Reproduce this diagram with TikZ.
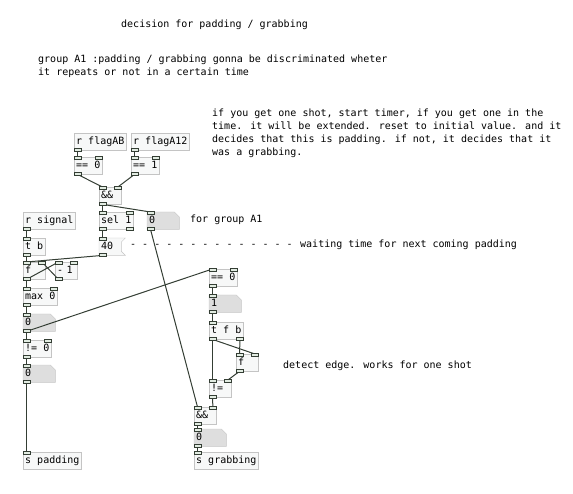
\documentclass[tikz,border=0pt]{standalone}
\usepackage{fontspec}
\newfontfamily\pdfont{DejaVu Sans Mono}
\usetikzlibrary{backgrounds}
\definecolor{pdbox}{RGB}{196,196,196}
\definecolor{pdfill}{RGB}{247,248,248}
\definecolor{pdatom}{RGB}{222,222,222}
\definecolor{pdwire}{RGB}{52,62,52}
\definecolor{pdport}{RGB}{226,236,226}

\tikzset{
  obj/.style={draw=pdbox,fill=pdfill,anchor=north west,font=\pdfont\fontsize{10}{13}\selectfont,
    inner xsep=2pt,inner ysep=0pt,minimum height=17pt,text height=7.5pt,text depth=2.5pt},
  narrow/.style={text width=18pt},
  atom/.style={obj,draw=none,fill=none,text width=28pt},
  msg/.style={obj,draw=none,fill=none,text width=18pt},
  note/.style={anchor=base west,inner sep=0pt,font=\pdfont\fontsize{10}{13}\selectfont,align=left},
  wire/.style={draw=pdwire,line width=1pt},
  port/.style={draw=pdwire,fill=pdport,line width=0.8pt}
}

% box outlines that a plain node can not give
\newcommand{\atombg}[1]{\filldraw[draw=pdbox,fill=pdatom] (#1.north west) -- ([xshift=-5pt]#1.north east)
  -- ([yshift=-5pt]#1.north east) -- (#1.south east) -- (#1.south west) -- cycle;}
\newcommand{\msgbg}[1]{\filldraw[draw=pdbox,fill=pdfill] (#1.north west) -- ([xshift=4pt]#1.north east)
  -- ([yshift=-4pt]#1.north east) -- ([yshift=4pt]#1.south east) -- ([xshift=4pt]#1.south east)
  -- (#1.south west) -- cycle;}
% inlets and outlets
\newcommand{\pdin}[1]{\draw[port] ([yshift=1pt]#1.north west) rectangle ++(7,3);}
\newcommand{\pdinr}[1]{\draw[port] ([yshift=1pt]#1.north east) rectangle ++(-7,3);}
\newcommand{\pdout}[1]{\draw[port] ([yshift=-1pt]#1.south west) rectangle ++(7,-3);}
\newcommand{\pdoutr}[1]{\draw[port] ([yshift=-1pt]#1.south east) rectangle ++(-7,-3);}
% connections
\newcommand{\pdlink}[2]{\draw[wire] ([xshift=3.5pt]#1.south west) -- ([xshift=3.5pt]#2.north west);}
\newcommand{\pdlinkr}[2]{\draw[wire] ([xshift=3.5pt]#1.south west) -- ([xshift=-3.5pt]#2.north east);}
\newcommand{\pdrlink}[2]{\draw[wire] ([xshift=-3.5pt]#1.south east) -- ([xshift=3.5pt]#2.north west);}

\begin{document}
\begin{tikzpicture}[x=1pt,y=-1pt]
  \useasboundingbox (0,0) rectangle (573,494);

  \node[note] (title) at (121,28) {decision for padding / grabbing};
  \node[note] (about) at (38,76) {group A1 :padding / grabbing gonna be discriminated wheter\\it repeats or not in a certain time};
  \node[note] (howto) at (212,156) {if you get one shot, start timer, if you get one in the\\time. it will be extended. reset to initial value. and it\\decides that this is padding. if not, it decides that it\\was a grabbing.};
  \node[note] (forgroup) at (190,223) {for group A1};
  \node[note] (dashes) at (130,248) {- - - - - - - - - - - - - -};
  \node[note] (waiting) at (300,248) {waiting time for next coming padding};
  \node[note] (edge) at (283,368) {detect edge. works for one shot};

  \node[obj] (rflagab) at (74,133) {r flagAB};
  \node[obj] (rflaga) at (131,133) {r flagA12};
  \node[obj] (eqzero) at (74,157) {== 0};
  \node[obj] (eqone) at (131,157) {== 1};
  \node[obj,narrow] (andtop) at (99,187) {\&\&};
  \node[obj] (selone) at (99,212) {sel 1};
  \node[atom] (gatetop) at (147,212) {0};
  \node[obj] (rsignal) at (23,212) {r signal};
  \node[obj] (tb) at (23,238) {t b};
  \node[msg] (wait) at (99,238) {40};
  \node[obj,narrow] (ff) at (23,262) {f};
  \node[obj,narrow] (minus) at (55,262) {- 1};
  \node[obj] (maxz) at (23,288) {max 0};
  \node[atom] (cnt) at (23,314) {0};
  \node[obj] (neqz) at (23,340) {!= 0};
  \node[atom] (padflag) at (23,365) {0};
  \node[obj] (spad) at (23,452) {s padding};

  \node[obj] (eqzb) at (209,269) {== 0};
  \node[atom] (one) at (209,295) {1};
  \node[obj] (tfb) at (209,322) {t f b};
  \node[obj,narrow] (fb) at (236,354) {f};
  \node[obj,narrow] (neq) at (209,380) {!=};
  \node[obj,narrow] (andbot) at (194,407) {\&\&};
  \node[atom] (grabflag) at (194,429) {0};
  \node[obj] (sgrab) at (194,452) {s grabbing};

  \begin{scope}[on background layer]
    \foreach \n in {gatetop,cnt,padflag,one,grabflag} {\atombg{\n}}
    \msgbg{wait}
  \end{scope}

  \pdlink{rflagab}{eqzero}
  \pdlink{rflaga}{eqone}
  \pdlink{eqzero}{andtop}
  \pdlinkr{eqone}{andtop}
  \pdlink{andtop}{selone}
  \pdlink{andtop}{gatetop}
  \pdlink{selone}{wait}
  \pdlink{gatetop}{andbot}
  \pdlink{rsignal}{tb}
  \pdlink{tb}{ff}
  \pdlink{wait}{ff}
  \pdlink{ff}{minus}
  \pdlinkr{minus}{ff}
  \pdlink{ff}{maxz}
  \pdlink{maxz}{cnt}
  \pdlink{cnt}{eqzb}
  \pdlink{cnt}{neqz}
  \pdlink{neqz}{padflag}
  \pdlink{padflag}{spad}
  \pdlink{eqzb}{one}
  \pdlink{one}{tfb}
  \pdlink{tfb}{neq}
  \pdlinkr{tfb}{fb}
  \pdrlink{tfb}{fb}
  \pdlinkr{fb}{neq}
  \pdlinkr{neq}{andbot}
  \pdlink{andbot}{grabflag}
  \pdlink{grabflag}{sgrab}

  \foreach \n in {rflagab,rflaga,rsignal} {\pdout{\n}}
  \foreach \n in {gatetop,tb,wait,cnt,padflag,one,grabflag} {\pdin{\n}\pdout{\n}}
  \foreach \n in {eqzero,eqone,andtop,ff,minus,maxz,neqz,eqzb,fb,neq,andbot} {\pdin{\n}\pdinr{\n}\pdout{\n}}
  \foreach \n in {spad,sgrab} {\pdin{\n}}
  \pdin{selone}\pdinr{selone}\pdout{selone}\pdoutr{selone}
  \pdin{tfb}\pdout{tfb}\pdoutr{tfb}
\end{tikzpicture}
\end{document}
